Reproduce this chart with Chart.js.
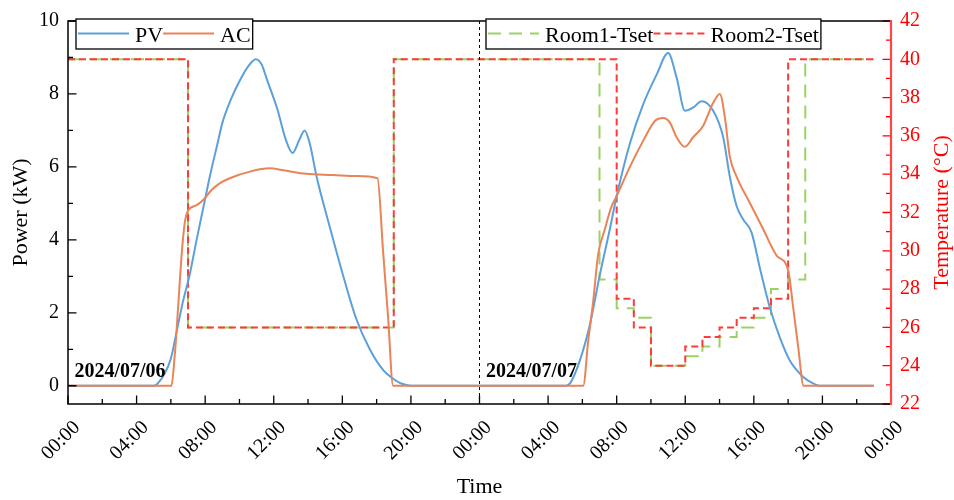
<!DOCTYPE html>
<html>
<head>
<meta charset="utf-8">
<script src="https://cdn.jsdelivr.net/npm/chart.js@4.4.1/dist/chart.umd.min.js"></script>
<style>
  html, body { margin: 0; padding: 0; background: #fff; }
</style>
</head>
<body>
<canvas id="chart" width="954" height="500"></canvas>
<script>
// hours counted from 2024/07/06 00:00
const pvHours = [0, 5.0, 5.2, 5.6, 6.0, 6.3, 6.7, 7.1, 7.5, 7.9, 8.3, 8.7, 9.0, 9.5, 10.0, 10.5, 10.95, 11.3, 11.6, 12.2, 12.7, 13.1, 13.5, 13.8, 14.1, 14.5, 15.3, 16.0, 16.8, 17.6, 18.4, 19.0, 19.4, 20.0,
  29.05, 29.3, 29.85, 30.44, 31.0, 31.6, 32.0, 32.77, 33.55, 34.33, 35.0, 35.5, 35.98, 36.47, 36.95, 37.63, 38.21, 38.6, 39.0, 39.38, 39.87, 40.36, 40.94, 41.52, 42.1, 42.88, 43.4, 43.9, 47];
const pvPower = [0, 0, 0.05, 0.3, 0.75, 1.4, 2.3, 3.05, 4.0, 4.9, 5.8, 6.6, 7.2, 7.85, 8.35, 8.75, 8.95, 8.8, 8.4, 7.6, 6.75, 6.38, 6.75, 7.0, 6.64, 5.73, 4.3, 3.1, 1.85, 1.0, 0.42, 0.18, 0.07, 0,
  0, 0.08, 0.69, 1.68, 3.0, 4.29, 5.2, 6.64, 7.72, 8.53, 9.12, 8.44, 7.54, 7.63, 7.8, 7.54, 6.82, 5.73, 4.92, 4.56, 4.2, 3.21, 2.13, 1.32, 0.69, 0.24, 0.08, 0, 0];

const acHours = [0, 6.03, 6.22, 6.42, 6.61, 6.81, 7.0, 7.5, 7.9, 8.4, 8.85, 9.43, 10.6, 11.77, 12.54, 13.9, 15.46, 16.83, 18.05, 18.38, 18.67, 18.96,
  30.05, 30.34, 30.63, 30.92, 31.31, 31.7, 32.0, 32.77, 33.55, 34.23, 34.71, 35.1, 35.49, 35.98, 36.47, 37.05, 37.63, 38.02, 38.31, 38.6, 39.0, 39.77, 40.55, 41.33, 42.0, 42.3, 42.59, 42.9, 47];
const acPower = [0, 0, 0.8, 2.13, 3.48, 4.47, 4.8, 4.95, 5.1, 5.38, 5.55, 5.69, 5.87, 5.96, 5.91, 5.81, 5.78, 5.75, 5.69, 3.66, 1.86, 0,
  0, 1.23, 2.31, 3.6, 4.29, 4.92, 5.2, 6.0, 6.72, 7.26, 7.34, 7.22, 6.82, 6.55, 6.82, 7.13, 7.76, 8.0, 7.36, 6.28, 5.73, 5.01, 4.29, 3.57, 3.17, 2.13, 1.05, 0, 0];

// set-point steps: value applies from that hour on
const room1Hours = [0, 7, 19, 31, 32, 33, 34, 36, 37, 38, 39, 40, 41, 42, 43, 47];
const room1Tset  = [40, 26, 40, 28.5, 27, 26.5, 24, 24.5, 25, 25.5, 26, 26.5, 28, 28.5, 40, 40];
const room2Hours = [0, 7, 19, 32, 33, 34, 36, 37, 38, 39, 40, 41, 42, 47];
const room2Tset  = [40, 26, 40, 27.5, 26, 24, 25, 25.5, 26, 26.5, 27, 27.5, 40, 40];

const timeTicks = [0, 4, 8, 12, 16, 20, 24, 28, 32, 36, 40, 44, 48];
const timeLabels = ['00:00', '04:00', '08:00', '12:00', '16:00', '20:00', '00:00', '04:00', '08:00', '12:00', '16:00', '20:00', '00:00'];
const powerTicks = [0, 2, 4, 6, 8, 10];
const tempTicks = [22, 24, 26, 28, 30, 32, 34, 36, 38, 40, 42];
const dayDivider = 24;
const dayLabels = [{ hour: 0, text: '2024/07/06' }, { hour: 24, text: '2024/07/07' }];
const tempTitle = 'Temperature (°C)';

const serif = "'Liberation Serif', 'Times New Roman', serif";
const blue = 'rgb(91,160,218)';
const orange = 'rgb(233,131,88)';
const green = 'rgb(155,210,100)';
const red = 'rgb(255,58,58)';
const tempColor = '#ff0000';

const toPoints = (xs, ys) => xs.map((h, i) => ({ x: h, y: ys[i] }));

// frame, inward ticks, divider line, date labels, right title, legends
const framePlugin = {
  id: 'frame',
  afterDatasetsDraw(chart) {
    const { ctx, chartArea: a, scales } = chart;
    ctx.save();

    const xd = scales.x.getPixelForValue(dayDivider);
    ctx.strokeStyle = '#000';
    ctx.lineWidth = 1;
    ctx.setLineDash([3, 3]);
    ctx.beginPath();
    ctx.moveTo(xd, a.top);
    ctx.lineTo(xd, a.bottom);
    ctx.stroke();
    ctx.setLineDash([]);

    const drawTicks = (scale, values, color, dir) => {
      ctx.strokeStyle = color;
      ctx.lineWidth = 1.3;
      ctx.beginPath();
      values.forEach((v, i) => {
        const p = scale.getPixelForValue(v);
        const marks = [[p, 8.5]];
        if (i < values.length - 1) marks.push([scale.getPixelForValue((v + values[i + 1]) / 2), 5]);
        marks.forEach(([q, len]) => {
          if (dir === 'up') { ctx.moveTo(q, a.bottom); ctx.lineTo(q, a.bottom - len); }
          if (dir === 'right') { ctx.moveTo(a.left, q); ctx.lineTo(a.left + len, q); }
          if (dir === 'left') { ctx.moveTo(a.right, q); ctx.lineTo(a.right - len, q); }
        });
      });
      ctx.stroke();
    };
    drawTicks(scales.x, timeTicks, '#000', 'up');
    drawTicks(scales.y, powerTicks, '#000', 'right');
    drawTicks(scales.y2, tempTicks, tempColor, 'left');

    ctx.strokeStyle = '#000';
    ctx.lineWidth = 1.5;
    ctx.beginPath();
    ctx.moveTo(a.right, a.top);
    ctx.lineTo(a.left, a.top);
    ctx.lineTo(a.left, a.bottom);
    ctx.lineTo(a.right, a.bottom);
    ctx.stroke();
    ctx.strokeStyle = 'rgb(255,70,70)';
    ctx.lineWidth = 2.2;
    ctx.beginPath();
    ctx.moveTo(a.right, a.top - 1);
    ctx.lineTo(a.right, a.bottom + 1);
    ctx.stroke();

    ctx.fillStyle = '#000';
    ctx.font = 'bold 20px ' + serif;
    ctx.textBaseline = 'alphabetic';
    ctx.textAlign = 'left';
    dayLabels.forEach(d => {
      ctx.fillText(d.text, scales.x.getPixelForValue(d.hour) + 6.5, scales.y.getPixelForValue(0) - 8.5);
    });

    // right axis title reads bottom to top
    ctx.save();
    ctx.translate(948, (a.top + a.bottom) / 2);
    ctx.rotate(-Math.PI / 2);
    ctx.font = '22px ' + serif;
    ctx.fillStyle = tempColor;
    ctx.textAlign = 'center';
    ctx.fillText(tempTitle, 0, 0);
    ctx.restore();

    // two legend boxes
    const groups = [{ left: 76, labels: ['PV', 'AC'] }, { left: 486, labels: ['Room1-Tset', 'Room2-Tset'] }];
    ctx.font = '22px ' + serif;
    groups.forEach(g => {
      const items = g.labels.map(l => chart.data.datasets.find(ds => ds.label === l));
      let x = g.left + 2;
      const pos = items.map(ds => {
        const start = x;
        x += 51 + 6 + ctx.measureText(ds.label).width;
        return start;
      });
      const w = x - g.left + 2;
      ctx.fillStyle = '#fff';
      ctx.fillRect(g.left, 19, w, 30);
      ctx.strokeStyle = '#000';
      ctx.lineWidth = 1.3;
      ctx.strokeRect(g.left, 19, w, 30);
      items.forEach((ds, i) => {
        ctx.strokeStyle = ds.borderColor;
        ctx.lineWidth = 2;
        ctx.setLineDash(ds.borderDash || []);
        ctx.beginPath();
        ctx.moveTo(pos[i], 33.5);
        ctx.lineTo(pos[i] + 51, 33.5);
        ctx.stroke();
        ctx.setLineDash([]);
        ctx.fillStyle = '#000';
        ctx.fillText(ds.label, pos[i] + 57, 41.5);
      });
    });
    ctx.restore();
  }
};

new Chart(document.getElementById('chart'), {
  type: 'line',
  data: {
    datasets: [
      { label: 'PV', data: toPoints(pvHours, pvPower), borderColor: blue, borderWidth: 2, pointRadius: 0, cubicInterpolationMode: 'monotone', yAxisID: 'y', order: 1 },
      { label: 'AC', data: toPoints(acHours, acPower), borderColor: orange, borderWidth: 2, pointRadius: 0, cubicInterpolationMode: 'monotone', yAxisID: 'y', order: 0 },
      { label: 'Room1-Tset', data: toPoints(room1Hours, room1Tset), borderColor: green, borderWidth: 2, borderDash: [13, 8], pointRadius: 0, stepped: true, yAxisID: 'y2', order: 3 },
      { label: 'Room2-Tset', data: toPoints(room2Hours, room2Tset), borderColor: red, borderWidth: 2, borderDash: [7, 4], pointRadius: 0, stepped: true, yAxisID: 'y2', order: 2 }
    ]
  },
  options: {
    responsive: false,
    animation: false,
    layout: { padding: { top: 15 } },
    plugins: { legend: { display: false }, tooltip: { enabled: false } },
    scales: {
      x: {
        type: 'linear', min: 0, max: 48,
        afterBuildTicks: s => { s.ticks = timeTicks.map(v => ({ value: v })); },
        afterFit: s => { s.height = 96; },
        grid: { display: false, drawTicks: false },
        border: { display: false },
        ticks: {
          autoSkip: false, maxRotation: 45, minRotation: 45, padding: 12, labelOffset: 9,
          color: '#000', font: { family: serif, size: 20 },
          callback: (v, i) => timeLabels[i]
        },
        title: { display: true, text: 'Time', color: '#000', font: { family: serif, size: 22 }, padding: { top: 0, bottom: 0 } }
      },
      y: {
        position: 'left', min: -0.5, max: 10,
        afterBuildTicks: s => { s.ticks = powerTicks.map(v => ({ value: v })); },
        afterFit: s => { s.width = 68; },
        grid: { display: false, drawTicks: false },
        border: { display: false },
        ticks: { padding: 9, color: '#000', font: { family: serif, size: 20 } },
        title: { display: true, text: 'Power (kW)', color: '#000', font: { family: serif, size: 22 }, padding: { top: 8, bottom: 0 } }
      },
      y2: {
        position: 'right', min: 22, max: 42,
        afterBuildTicks: s => { s.ticks = tempTicks.map(v => ({ value: v })); },
        afterFit: s => { s.width = 63; },
        grid: { display: false, drawTicks: false },
        border: { display: false },
        ticks: { padding: 9, color: tempColor, font: { family: serif, size: 20 } },
        title: { display: false }
      }
    }
  },
  plugins: [framePlugin]
});
</script>
</body>
</html>
